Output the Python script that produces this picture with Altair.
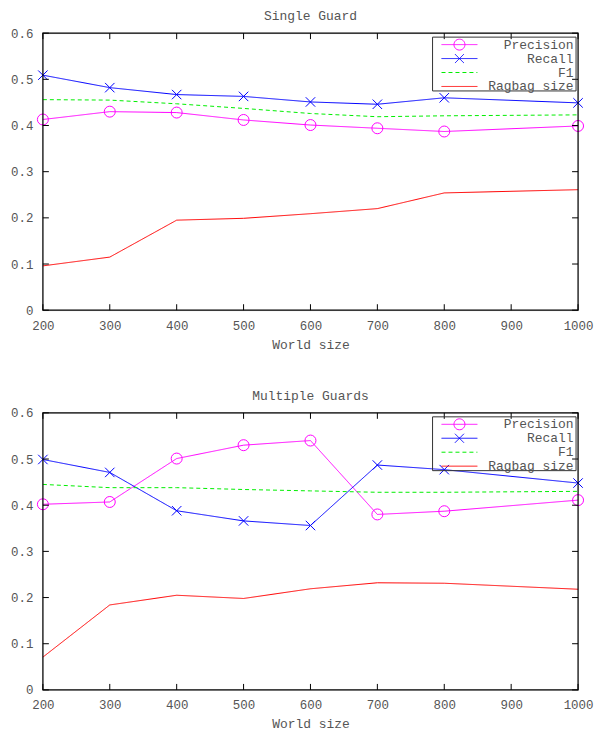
import altair as alt
import pandas as pd

# ---------------- data ----------------
world_size = [200, 300, 400, 500, 600, 700, 800, 1000]
series_names = ["Precision", "Recall", "F1", "Ragbag size"]

single_precision = [0.413, 0.430, 0.428, 0.412, 0.401, 0.394, 0.387, 0.399]
single_recall = [0.509, 0.482, 0.467, 0.463, 0.451, 0.446, 0.460, 0.449]
single_f1 = [0.456, 0.455, 0.447, 0.437, 0.426, 0.419, 0.421, 0.423]
single_ragbag = [0.096, 0.115, 0.195, 0.199, 0.209, 0.220, 0.254, 0.261]

multi_precision = [0.402, 0.407, 0.501, 0.530, 0.540, 0.380, 0.387, 0.411]
multi_recall = [0.499, 0.471, 0.388, 0.366, 0.356, 0.487, 0.477, 0.448]
multi_f1 = [0.445, 0.438, 0.438, 0.434, 0.431, 0.428, 0.428, 0.430]
multi_ragbag = [0.071, 0.184, 0.205, 0.198, 0.219, 0.232, 0.231, 0.218]

x_ticks = [200, 300, 400, 500, 600, 700, 800, 900, 1000]
y_ticks = [0, 0.1, 0.2, 0.3, 0.4, 0.5, 0.6]

# ---------------- style ----------------
W = 537
FONT = "Liberation Mono"
TXT = "#555555"
COLORS = ["#ff00ff", "#0000ff", "#00ee00", "#ff0000"]
DASHES = [[1, 0], [1, 0], [4, 3], [1, 0]]
TICK = 6
LEGEND_BOX = (391, 535, 4, 58)  # left, right, top, bottom inside the plot

LEG_PRECISION = "M-3.6,0H3.6M1.1,0A1.1,1.1,0,1,1,-1.1,0A1.1,1.1,0,1,1,1.1,0"
LEG_RECALL = "M-3.6,0H3.6M-0.9,-0.9L0.9,0.9M-0.9,0.9L0.9,-0.9"
LEG_LINE = "M-3.6,0H3.6"
symbol_expr = (
    f"datum.value === 'Precision' ? '{LEG_PRECISION}' : "
    f"(datum.value === 'Recall' ? '{LEG_RECALL}' : '{LEG_LINE}')"
)


def panel(title, precision, recall, f1, ragbag, H):
    values = {"Precision": precision, "Recall": recall, "F1": f1, "Ragbag size": ragbag}
    rows = []
    for name in series_names:
        for x, v in zip(world_size, values[name]):
            rows.append({"world": x, "value": v, "series": name})
    df = pd.DataFrame(rows)
    xt = pd.DataFrame({"t": x_ticks})
    yt = pd.DataFrame({"t": y_ticks})
    one_df = pd.DataFrame({"f": [0]})

    xs = alt.Scale(domain=[200, 1000], nice=False, zero=False)
    ys = alt.Scale(domain=[0, 0.6], nice=False, zero=False)
    cs = alt.Scale(domain=series_names, range=COLORS)
    ds = alt.Scale(domain=series_names, range=DASHES)

    legend = alt.Legend(
        title=None,
        orient="none",
        legendX=397,
        legendY=3,
        padding=2,
        labelFont=FONT,
        labelFontSize=13,
        labelColor=TXT,
        labelAlign="right",
        labelOffset=108,
        symbolOffset=12.5,
        symbolSize=100,
        symbolStrokeWidth=1,
        symbolFillColor="transparent",
        symbolType={"expr": symbol_expr},
        rowPadding=0,
        clipHeight=13,
    )

    x_axis = alt.Axis(
        values=x_ticks, format="d", ticks=False, domain=False, grid=False,
        labelFont=FONT, labelFontSize=12.5, labelColor=TXT, labelPadding=9,
        labelFlush=False,
        title="World size", titleFont=FONT, titleFontSize=13, titleColor=TXT,
        titleFontWeight="normal", titlePadding=6.5,
    )
    y_axis = alt.Axis(
        values=y_ticks, format=".1~f", ticks=False, domain=False, grid=False,
        labelFont=FONT, labelFontSize=12.5, labelColor=TXT, labelPadding=10,
        labelFlush=False, title=None,
    )

    lines = alt.Chart(df).mark_line(strokeWidth=1).encode(
        x=alt.X("world:Q", scale=xs, axis=x_axis),
        y=alt.Y("value:Q", scale=ys, axis=y_axis),
        color=alt.Color("series:N", scale=cs, legend=legend),
        strokeDash=alt.StrokeDash("series:N", scale=ds, legend=legend),
    )

    points = alt.Chart(df).transform_filter(
        alt.FieldOneOfPredicate(field="series", oneOf=["Precision", "Recall"])
    ).mark_point(filled=False, strokeWidth=1, opacity=1).encode(
        x=alt.X("world:Q", scale=xs, axis=x_axis),
        y=alt.Y("value:Q", scale=ys, axis=y_axis),
        color=alt.Color("series:N", scale=cs, legend=None),
        shape=alt.Shape(
            "series:N",
            scale=alt.Scale(domain=["Precision", "Recall"],
                            range=["circle", "M-1,-1L1,1M-1,1L1,-1"]),
            legend=None,
        ),
        size=alt.Size(
            "series:N",
            scale=alt.Scale(domain=["Precision", "Recall"], range=[121, 90]),
            legend=None,
        ),
    )

    tick_bottom = alt.Chart(xt).mark_rule(color="black", strokeWidth=1).encode(
        x=alt.X("t:Q", scale=xs, axis=x_axis), y=alt.value(H), y2=alt.value(H - TICK)
    )
    tick_top = alt.Chart(xt).mark_rule(color="black", strokeWidth=1).encode(
        x=alt.X("t:Q", scale=xs, axis=x_axis), y=alt.value(0), y2=alt.value(TICK)
    )
    tick_left = alt.Chart(yt).mark_rule(color="black", strokeWidth=1).encode(
        y=alt.Y("t:Q", scale=ys, axis=y_axis), x=alt.value(0), x2=alt.value(TICK)
    )
    tick_right = alt.Chart(yt).mark_rule(color="black", strokeWidth=1).encode(
        y=alt.Y("t:Q", scale=ys, axis=y_axis), x=alt.value(W), x2=alt.value(W - TICK)
    )
    frame = alt.Chart(one_df).mark_rect(
        fill="transparent", stroke="black", strokeWidth=1.2
    ).encode(
        x=alt.value(0), x2=alt.value(W), y=alt.value(0), y2=alt.value(H)
    )
    l, r, t, b = LEGEND_BOX
    legend_box = alt.Chart(one_df).mark_rect(
        fill="transparent", stroke="#333333", strokeWidth=1
    ).encode(
        x=alt.value(l), x2=alt.value(r), y=alt.value(t), y2=alt.value(b)
    )

    return alt.layer(
        lines, points, tick_bottom, tick_top, tick_left, tick_right, frame, legend_box
    ).properties(
        width=W,
        height=H,
        title=alt.TitleParams(
            text=title, font=FONT, fontSize=13, color=TXT, fontWeight="normal",
            anchor="middle", frame="group", offset=4,
        ),
    )


top = panel("Single Guard", single_precision, single_recall, single_f1, single_ragbag, 278)
bottom = panel("Multiple Guards", multi_precision, multi_recall, multi_f1, multi_ragbag, 278)

chart = alt.vconcat(top, bottom, spacing=37).resolve_scale(
    color="independent", strokeDash="independent", shape="independent", size="independent"
).resolve_legend(
    color="independent", strokeDash="independent"
).properties(
    padding={"left": 1, "top": 0, "right": 0, "bottom": -2}
).configure_view(stroke=None).configure(background="white")

chart.save("out.html", embed_options={"renderer": "svg", "actions": False})
